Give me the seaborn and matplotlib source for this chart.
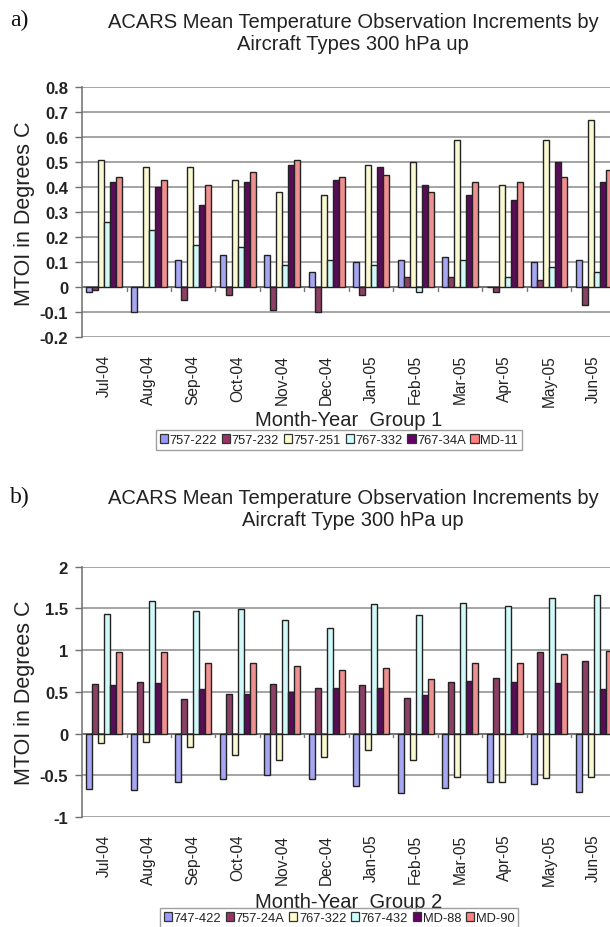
import numpy as np
import pandas as pd
import seaborn as sns
import matplotlib
matplotlib.use("Agg")
import matplotlib.pyplot as plt
import matplotlib.transforms as mtransforms

months = ["Jul-04", "Aug-04", "Sep-04", "Oct-04", "Nov-04", "Dec-04",
          "Jan-05", "Feb-05", "Mar-05", "Apr-05", "May-05", "Jun-05"]

# Group 1 (panel a)
types_a = ["757-222", "757-232", "757-251", "767-332", "767-34A", "MD-11"]
a_757_222 = [-0.02, -0.10, 0.11, 0.13, 0.13, 0.06, 0.10, 0.11, 0.12, 0.00, 0.10, 0.11]
a_757_232 = [-0.01, 0.00, -0.05, -0.03, -0.09, -0.10, -0.03, 0.04, 0.04, -0.02, 0.03, -0.07]
a_757_251 = [0.51, 0.48, 0.48, 0.43, 0.38, 0.37, 0.49, 0.50, 0.59, 0.41, 0.59, 0.67]
a_767_332 = [0.26, 0.23, 0.17, 0.16, 0.09, 0.11, 0.09, -0.02, 0.11, 0.04, 0.08, 0.06]
a_767_34A = [0.42, 0.40, 0.33, 0.42, 0.49, 0.43, 0.48, 0.41, 0.37, 0.35, 0.50, 0.42]
a_MD_11 = [0.44, 0.43, 0.41, 0.46, 0.51, 0.44, 0.45, 0.38, 0.42, 0.42, 0.44, 0.47]

# Group 2 (panel b)
types_b = ["747-422", "757-24A", "767-322", "767-432", "MD-88", "MD-90"]
b_747_422 = [-0.66, -0.68, -0.58, -0.54, -0.50, -0.54, -0.63, -0.71, -0.65, -0.58, -0.60, -0.70]
b_757_24A = [0.60, 0.62, 0.42, 0.48, 0.59, 0.55, 0.58, 0.43, 0.62, 0.67, 0.98, 0.87]
b_767_322 = [-0.11, -0.10, -0.16, -0.26, -0.32, -0.28, -0.20, -0.32, -0.52, -0.58, -0.53, -0.52]
b_767_432 = [1.43, 1.59, 1.47, 1.49, 1.36, 1.27, 1.55, 1.42, 1.57, 1.53, 1.62, 1.66]
b_MD_88 = [0.58, 0.61, 0.53, 0.48, 0.50, 0.55, 0.55, 0.46, 0.63, 0.62, 0.61, 0.54]
b_MD_90 = [0.98, 0.98, 0.85, 0.84, 0.81, 0.76, 0.78, 0.65, 0.84, 0.84, 0.95, 0.99]

colors = ["#9999FF", "#993366", "#FFFFCC", "#CCFFFF", "#660066", "#FF8080"]

yticks_a = [-0.2, -0.1, 0, 0.1, 0.2, 0.3, 0.4, 0.5, 0.6, 0.7, 0.8]
yticklabels_a = ["-0.2", "-0.1", "0", "0.1", "0.2", "0.3", "0.4", "0.5", "0.6", "0.7", "0.8"]
yticks_b = [-1, -0.5, 0, 0.5, 1, 1.5, 2]
yticklabels_b = ["-1", "-0.5", "0", "0.5", "1", "1.5", "2"]


def long_df(types, series):
    rows = []
    for t, vals in zip(types, series):
        for m, v in zip(months, vals):
            rows.append({"month": m, "type": t, "value": v})
    return pd.DataFrame(rows)


df_a = long_df(types_a, [a_757_222, a_757_232, a_757_251, a_767_332, a_767_34A, a_MD_11])
df_b = long_df(types_b, [b_747_422, b_757_24A, b_767_322, b_767_432, b_MD_88, b_MD_90])

sns.set_style("white")
plt.rcParams["font.family"] = ["Liberation Sans", "DejaVu Sans"]

W, H = 610, 928
fig = plt.figure(figsize=(W / 100, H / 100), dpi=100)

SANS = ["Liberation Sans", "DejaVu Sans"]
SERIF = ["Liberation Serif", "DejaVu Serif"]


def panel(df, types, yticks, ylabels, top_px, bot_px, title_y, label, title2, xlabel, xlabel_y, legend_y, legend_x):
    left_px, right_px = 82, 616
    ax = fig.add_axes([left_px / W, 1 - bot_px / H, (right_px - left_px) / W, (bot_px - top_px) / H])
    sns.barplot(data=df, x="month", y="value", hue="type", hue_order=types, order=months,
                palette=colors, edgecolor="#222222", linewidth=1.0, width=0.8,
                errorbar=None, ax=ax, zorder=3)
    ax.set_xlim(-0.5, len(months) - 0.5)
    ax.set_ylim(yticks[0], yticks[-1])
    ax.set_yticks(yticks)
    ax.set_yticklabels(ylabels, fontsize=12, fontweight="bold", family=SANS, color="#222222")
    ax.set_axisbelow(True)
    ax.yaxis.grid(True, color="#8c8c8c", linewidth=1.1)
    ax.xaxis.grid(False)
    for s in ["top", "right", "bottom"]:
        ax.spines[s].set_visible(False)
    ax.spines["left"].set_color("#6e6e6e")
    ax.spines["left"].set_linewidth(1.1)
    ax.tick_params(axis="y", which="major", left=True, length=5, width=1, color="#6e6e6e", pad=5)
    ax.tick_params(axis="x", which="major", bottom=False, length=0, pad=12)
    ax.set_xticks(range(len(months)))
    ax.set_xticklabels(months, rotation=90, fontsize=11.2, family=SANS, color="#222222")
    # zero (category) axis with tick marks between categories
    ax.axhline(0, color="#666666", linewidth=1.1, zorder=2)
    trans = mtransforms.blended_transform_factory(ax.transData, ax.transAxes)
    ytick0 = (0 - yticks[0]) / (yticks[-1] - yticks[0])
    for b in np.arange(0.5, len(months) - 0.5, 1.0):
        ax.plot([b, b], [ytick0, ytick0 - 0.014], color="#777777", lw=1, transform=trans,
                clip_on=False, zorder=2)
    ax.set_xlabel("")
    ax.set_ylabel("MTOI in Degrees C", fontsize=15.5, family=SANS, color="#222222", labelpad=3)
    ax.get_legend().remove()

    # titles
    fig.text(353 / W, 1 - title_y / H, "ACARS Mean Temperature Observation Increments by\n" + title2,
             ha="center", va="center", fontsize=14.5, family=SANS, color="#222222", linespacing=1.2)
    fig.text(10 / W, 1 - (title_y - 13) / H, label, ha="left", va="center", fontsize=17,
             family=SERIF, color="#111111")
    fig.text(349 / W, 1 - xlabel_y / H, xlabel, ha="center", va="center", fontsize=14.5,
             family=SANS, color="#222222")

    handles = [plt.Rectangle((0, 0), 1, 1, facecolor=c, edgecolor="#333333", linewidth=0.9) for c in colors]
    leg = fig.legend(handles, types, loc="center", bbox_to_anchor=(legend_x / W, 1 - legend_y / H),
                     ncol=6, frameon=True, fancybox=False, fontsize=9.3,
                     handlelength=0.65, handleheight=0.65, handletextpad=0.12,
                     columnspacing=0.35, borderpad=0.3, borderaxespad=0)
    leg.get_frame().set_edgecolor("#888888")
    leg.get_frame().set_linewidth(1.0)
    for t in leg.get_texts():
        t.set_family(SANS)
        t.set_color("#222222")
    return ax


panel(df_a, types_a, yticks_a, yticklabels_a, 88.3, 338.3, 33, "a)",
      "Aircraft Types 300 hPa up", "Month-Year  Group 1", 421, 441, 339)
panel(df_b, types_b, yticks_b, yticklabels_b, 567.7, 818, 510, "b)",
      "Aircraft Type 300 hPa up", "Month-Year  Group 2", 903, 919, 339)

fig.savefig("out.png", dpi=100)
